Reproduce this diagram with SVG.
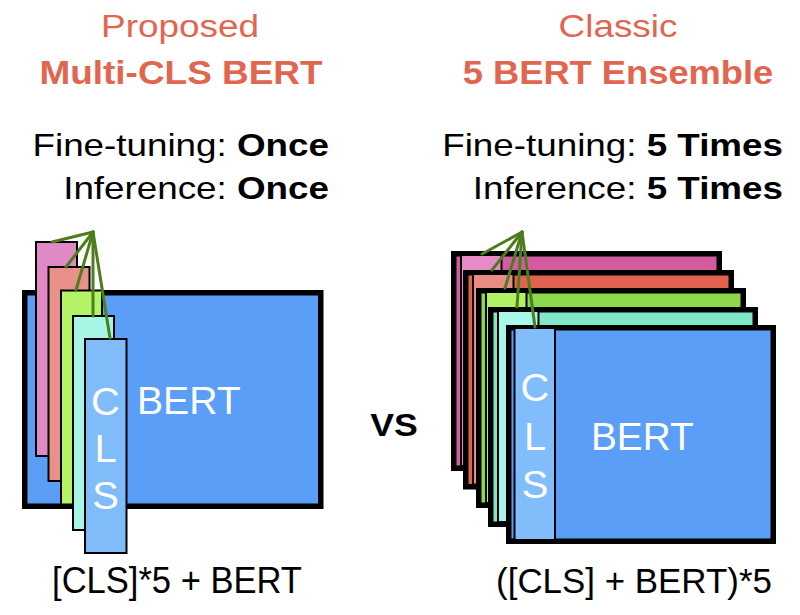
<svg xmlns="http://www.w3.org/2000/svg" width="800" height="615" viewBox="0 0 800 615">
<style>
text{font-family:"Liberation Sans",Arial,Helvetica,sans-serif}
.title{fill:#e2654f;font-size:31px;text-anchor:middle}
.titleb{fill:#e2654f;font-size:33px;font-weight:bold;text-anchor:middle}
.stat{fill:#000;font-size:32px;text-anchor:end}
.lab{fill:#000;font-size:36px;text-anchor:middle}
.w{fill:#fff;font-size:38px;text-anchor:middle}
.body{stroke:#000;stroke-width:5.5}
.strip{stroke:#000;stroke-width:2}
.conn line{stroke:#4e7d1e;stroke-width:3;stroke-linecap:round}
</style>

<g id="title-left">
<text class="title" transform="translate(180 37) scale(1.19 1)">Proposed</text>
<text class="titleb" transform="translate(181 84) scale(1.12 1)">Multi-CLS BERT</text>
</g>
<g id="title-right">
<text class="title" transform="translate(618 37) scale(1.19 1)">Classic</text>
<text class="titleb" transform="translate(618 84) scale(1.1 1)">5 BERT Ensemble</text>
</g>

<g id="stats-left">
<text class="stat" transform="translate(329 156) scale(1.15 1)">Fine-tuning: <tspan font-weight="bold">Once</tspan></text>
<text class="stat" transform="translate(329 199) scale(1.15 1)">Inference: <tspan font-weight="bold">Once</tspan></text>
</g>
<g id="stats-right">
<text class="stat" transform="translate(783 156) scale(1.15 1)">Fine-tuning: <tspan font-weight="bold">5 Times</tspan></text>
<text class="stat" transform="translate(783 199) scale(1.15 1)">Inference: <tspan font-weight="bold">5 Times</tspan></text>
</g>

<g id="multi-cls-bert">
<rect class="body" x="24.75" y="292.75" width="296" height="213.5" fill="#5a9ef8"/>
<rect class="strip" x="36" y="242" width="41" height="214" fill="#e189c5"/>
<rect class="strip" x="48.5" y="267" width="41" height="214" fill="#e9908a"/>
<rect class="strip" x="61" y="290.5" width="41" height="214" fill="#b3f466"/>
<rect class="strip" x="73" y="316" width="41" height="214" fill="#a7f5e5"/>
<rect class="strip" x="85" y="339" width="41.5" height="214" fill="#80bcfa"/>
<text class="w" transform="translate(105.5 415) scale(1.05 1)">C</text>
<text class="w" transform="translate(105.5 462) scale(1.05 1)">L</text>
<text class="w" transform="translate(105.5 509) scale(1.05 1)">S</text>
<text class="w" style="text-anchor:start" transform="translate(137 414) scale(1.03 1)">BERT</text>
</g>

<g id="ensemble-bert-1">
<rect class="body" x="453.75" y="253.75" width="265.5" height="214.5" fill="#d35c9f"/>
<rect class="strip" x="461" y="255" width="40.5" height="211" fill="#e78ac8"/>
</g>
<g id="ensemble-bert-2">
<rect class="body" x="465.75" y="272.75" width="265.5" height="214" fill="#e0634f"/>
<rect class="strip" x="473" y="274" width="40.5" height="210.5" fill="#eb8c84"/>
</g>
<g id="ensemble-bert-3">
<rect class="body" x="478.75" y="290.75" width="264.5" height="214.5" fill="#8dd84b"/>
<rect class="strip" x="486" y="292" width="40.5" height="211" fill="#b0f266"/>
</g>
<g id="ensemble-bert-4">
<rect class="body" x="490.75" y="309.75" width="264.5" height="214.5" fill="#80e8c9"/>
<rect class="strip" x="498" y="311" width="40.5" height="211" fill="#a8f7e8"/>
</g>
<g id="ensemble-bert-5">
<rect class="body" x="508.75" y="327.75" width="264.5" height="213.5" fill="#5a9ef8"/>
<rect class="strip" x="514.5" y="328" width="40.5" height="212" fill="#80bdfa"/>
<text class="w" transform="translate(535 401) scale(1.05 1)">C</text>
<text class="w" transform="translate(535 450) scale(1.05 1)">L</text>
<text class="w" transform="translate(535 498) scale(1.05 1)">S</text>
<text class="w" style="text-anchor:start" transform="translate(591 450) scale(1.02 1)">BERT</text>
</g>

<g id="connectors" class="conn">
<line x1="93" y1="232" x2="52" y2="242"/>
<line x1="93" y1="232" x2="66" y2="267"/>
<line x1="93" y1="232" x2="76" y2="290"/>
<line x1="93" y1="232" x2="93" y2="316"/>
<line x1="93" y1="232" x2="110" y2="338"/>
<line x1="522" y1="232" x2="482" y2="254"/>
<line x1="522" y1="232" x2="492" y2="270"/>
<line x1="522" y1="232" x2="505" y2="288"/>
<line x1="522" y1="232" x2="517" y2="307"/>
<line x1="522" y1="232" x2="535" y2="327"/>
</g>

<g id="vs">
<text style="fill:#000;font-size:31px;font-weight:bold;text-anchor:middle" transform="translate(394 436) scale(1.15 1)">VS</text>
</g>

<g id="label-left">
<text class="lab" transform="translate(177 593) scale(0.96 1)">[CLS]*5 + BERT</text>
</g>
<g id="label-right">
<text class="lab" transform="translate(634 593) scale(0.97 1)">([CLS] + BERT)*5</text>
</g>
</svg>
